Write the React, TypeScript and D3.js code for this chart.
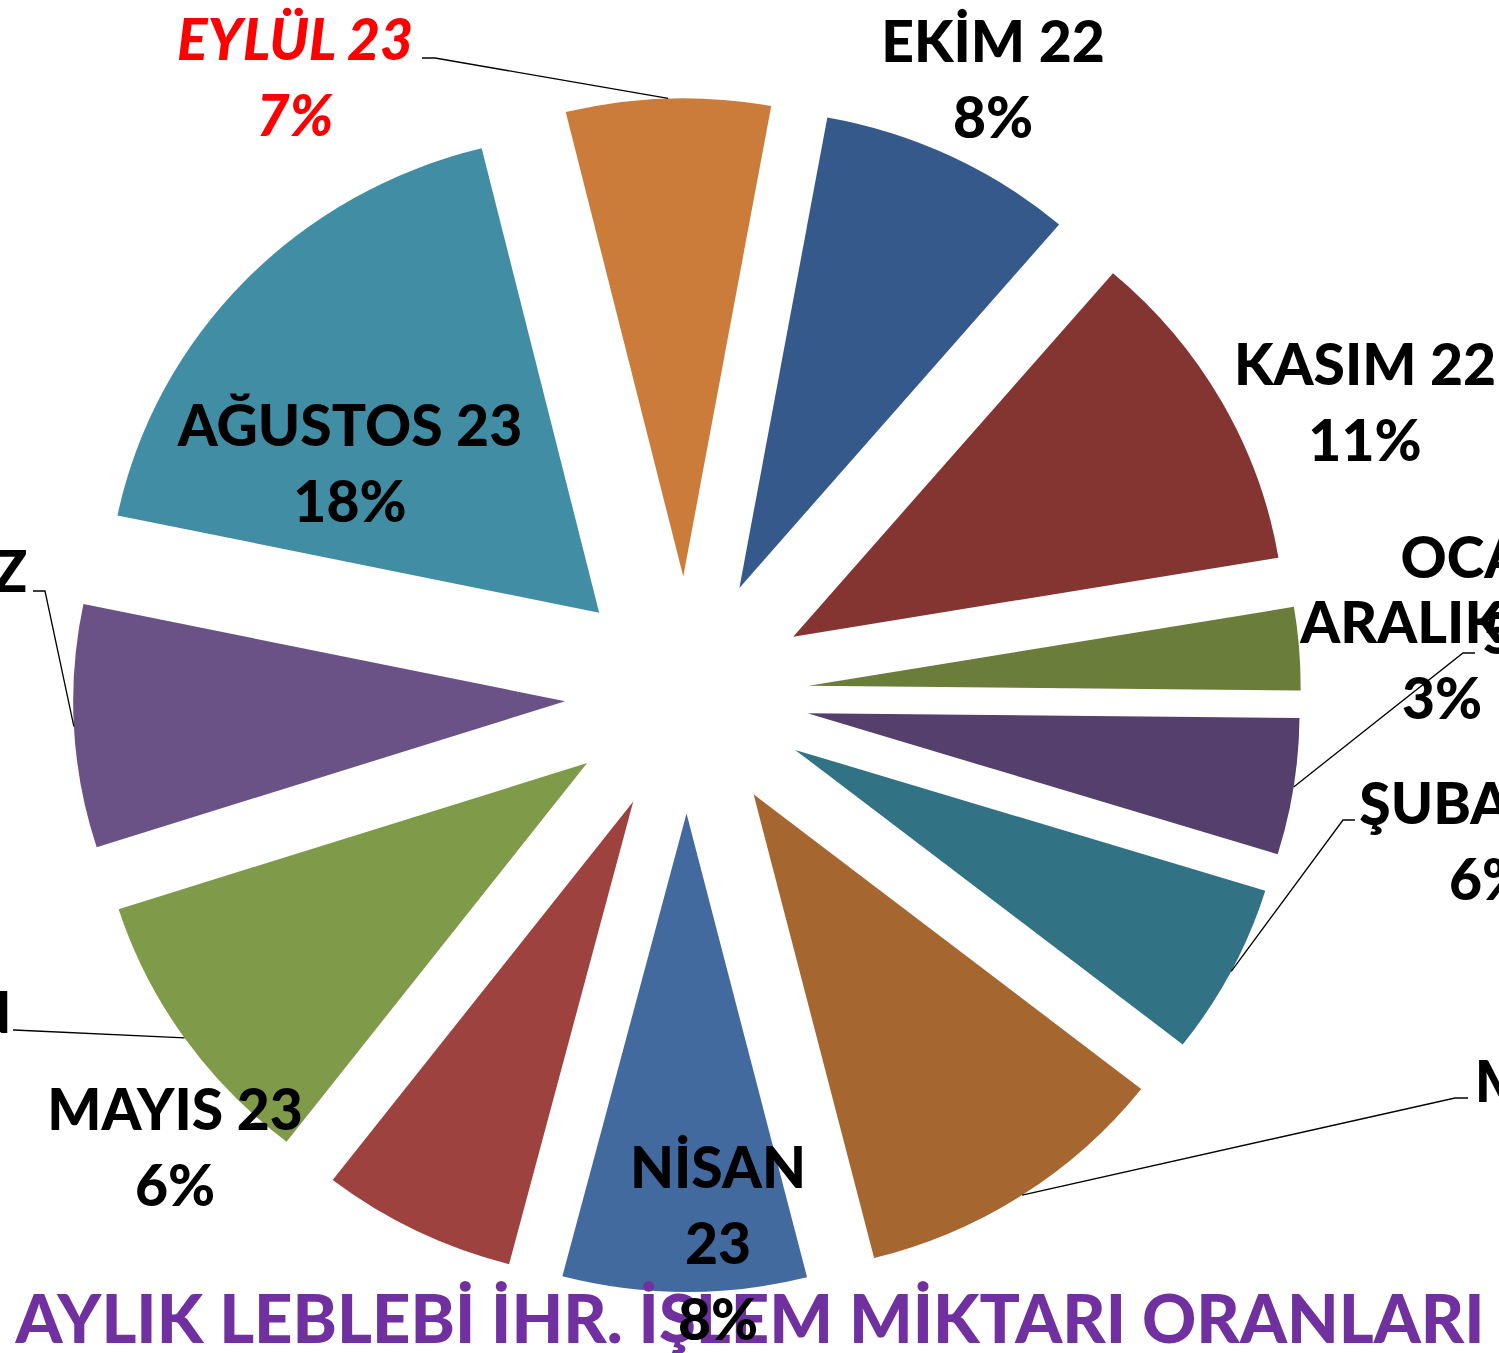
import React from "react";
import * as d3 from "d3";

// ---- data ----
const months = [
  "EKİM 22", "KASIM 22", "ARALIK 22", "OCAK 23", "ŞUBAT 23", "MART 23",
  "NİSAN 23", "MAYIS 23", "HAZİRAN 23", "TEMMUZ 23", "AĞUSTOS 23", "EYLÜL 23",
];
const shares = [8.4, 11.1, 2.8, 4.6, 5.8, 10.5, 8.0, 6.4, 9.6, 8.2, 17.9, 6.7];
const sliceColors = [
  "#35598a", "#843532", "#6a7d3a", "#553f6d", "#317385", "#a66630",
  "#436a9e", "#9e4240", "#7f9a48", "#6a5287", "#418ea4", "#cc7c3a",
];
const title = "AYLIK LEBLEBİ İHR. İŞLEM MİKTARI ORANLARI";

// ---- layout (label placement, not data) ----
type LabelLayout = {
  x: number; // center x of label block
  y: number; // baseline of first line
  wrap: boolean; // split month / year onto separate lines
  elbow?: [number, number]; // leader elbow
  end?: [number, number]; // leader end near the text
  red?: boolean;
};
const labelLayout: LabelLayout[] = [
  { x: 993, y: 62, wrap: false },
  { x: 1365, y: 385, wrap: false },
  { x: 1442, y: 643, wrap: false },
  { x: 1522, y: 578, wrap: false, elbow: [1463, 653], end: [1475, 653] },
  { x: 1489, y: 824, wrap: false, elbow: [1343, 820], end: [1355, 820] },
  { x: 1596, y: 1102, wrap: false, elbow: [1455, 1098], end: [1468, 1098] },
  { x: 718, y: 1188, wrap: true },
  { x: 175, y: 1130, wrap: false },
  { x: -117, y: 1033, wrap: true, elbow: [14, 1030], end: [13, 1030] },
  { x: -99, y: 592, wrap: true, elbow: [45, 591], end: [33, 591] },
  { x: 350, y: 446, wrap: false },
  { x: 295, y: 60, wrap: false, red: true, elbow: [435, 58], end: [422, 58] },
];

const W = 1499;
const H = 1353;
const cx = 687;
const cy = 695;
const R = 492;
const ky = 0.972;
const explode = 122;
const lineGap = 76;
const fontFamily = "Lato, 'Open Sans', 'DejaVu Sans', sans-serif";
const fontSize = 57;

export default function App() {
  const total = d3.sum(shares);
  const start = (10.3 * Math.PI) / 180;
  const pie = d3
    .pie<number>()
    .sort(null)
    .value((d) => d)
    .startAngle(start)
    .endAngle(start + 2 * Math.PI);
  const arcs = pie(shares);
  const arcGen = d3.arc<d3.PieArcDatum<number>>().innerRadius(0).outerRadius(R);

  return (
    <svg
      width={W}
      height={H}
      viewBox={`0 0 ${W} ${H}`}
      style={{ position: "absolute", left: 0, top: 0, overflow: "hidden", background: "#fff" }}
    >
      <rect x={0} y={0} width={W} height={H} fill="#fff" />
      <g transform={`translate(${cx},${cy}) scale(1,${ky})`}>
        {arcs.map((a, i) => {
          const mid = (a.startAngle + a.endAngle) / 2;
          const dx = explode * Math.sin(mid);
          const dy = -explode * Math.cos(mid);
          return (
            <path
              key={i}
              d={arcGen(a) || ""}
              transform={`translate(${dx},${dy})`}
              fill={sliceColors[i]}
            />
          );
        })}
      </g>
      <text
        x={750}
        y={1343}
        textAnchor="middle"
        fontFamily={fontFamily}
        fontWeight={900}
        fontSize={67}
        fill="#7030a0"
      >
        {title}
      </text>
      {arcs.map((a, i) => {
        const L = labelLayout[i];
        if (!L.elbow || !L.end) return null;
        const mid = (a.startAngle + a.endAngle) / 2;
        const sx = cx + (explode + R) * Math.sin(mid);
        const sy = cy - (explode + R) * Math.cos(mid) * ky;
        const pts: [number, number][] = [[sx, sy], L.elbow, L.end];
        return (
          <path
            key={"l" + i}
            d={d3.line()(pts) || ""}
            fill="none"
            stroke="#000"
            strokeWidth={1.3}
          />
        );
      })}
      {arcs.map((a, i) => {
        const L = labelLayout[i];
        const pct = Math.round((shares[i] / total) * 100) + "%";
        const parts = months[i].split(" ");
        const lines = L.wrap ? [parts[0], parts[1], pct] : [months[i], pct];
        return (
          <text
            key={"t" + i}
            textAnchor="middle"
            fontFamily={fontFamily}
            fontWeight={900}
            fontStyle={L.red ? "italic" : "normal"}
            fontSize={fontSize}
            fill={L.red ? "#ff0000" : "#000"}
          >
            {lines.map((ln, j) => (
              <tspan key={j} x={L.x} y={L.y + j * lineGap}>
                {ln}
              </tspan>
            ))}
          </text>
        );
      })}
    </svg>
  );
}
